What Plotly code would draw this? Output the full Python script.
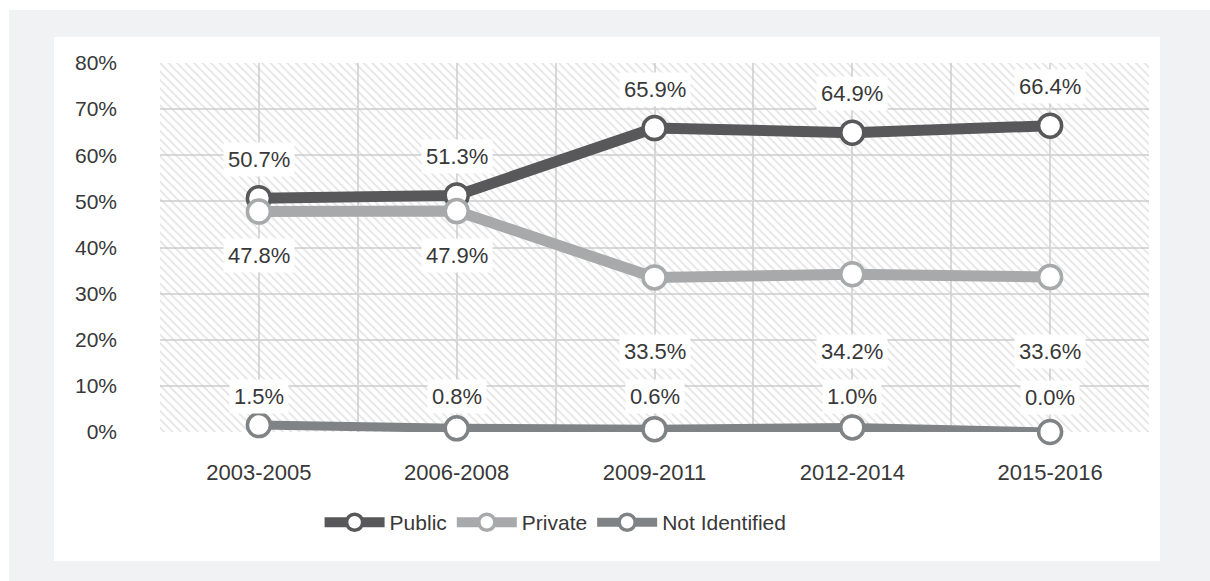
import plotly.graph_objects as go

# Share of projects by funding source, per period
periods = ["2003-2005", "2006-2008", "2009-2011", "2012-2014", "2015-2016"]
public_pct = [50.7, 51.3, 65.9, 64.9, 66.4]
private_pct = [47.8, 47.9, 33.5, 34.2, 33.6]
not_identified_pct = [1.5, 0.8, 0.6, 1.0, 0.0]

y_ticks = [0, 10, 20, 30, 40, 50, 60, 70, 80]

FONT = "Liberation Sans, Arial, sans-serif"
TEXT = "#383838"

series = [
    ("Public", public_pct, "#58585a", 11, [39, 39, 39, 39, 39]),
    ("Private", private_pct, "#a8a9ab", 11, [-44, -44, -74, -77, -74]),
    ("Not Identified", not_identified_pct, "#808385", 9, [29, 32, 33, 31, 35]),
]

xs = list(range(len(periods)))

fig = go.Figure()

# hatched plot background
fig.add_trace(go.Scatter(
    x=[-0.5, 4.5, 4.5, -0.5, -0.5],
    y=[y_ticks[0], y_ticks[0], y_ticks[-1], y_ticks[-1], y_ticks[0]],
    mode="lines", fill="toself",
    line=dict(width=0, color="rgba(0,0,0,0)"),
    fillcolor="rgba(0,0,0,0)",
    fillpattern=dict(shape="\\", fgcolor="#c9c9c9", bgcolor="rgba(0,0,0,0)",
                     size=6, solidity=0.3),
    hoverinfo="skip", showlegend=False,
))

annotations = []
for name, vals, color, lw, shifts in series:
    fig.add_trace(go.Scatter(
        x=xs, y=vals, name=name, mode="lines+markers",
        line=dict(color=color, width=lw),
        marker=dict(symbol="circle", size=23, color="white",
                    line=dict(color=color, width=3.5)),
        cliponaxis=False,
    ))
    for xi, v, s in zip(xs, vals, shifts):
        annotations.append(dict(
            x=xi, y=v, xref="x", yref="y", text=f"{v:.1f}%",
            showarrow=False, yshift=s, bgcolor="white", borderpad=4,
            font=dict(family=FONT, size=22, color=TEXT),
        ))

# page frame: grey surround with a white card
W, H = 989.0, 369.0
L, T = 160.0, 63.0
def px_x(p):
    return (p - L) / W
def px_y(p):
    return (T + H - p) / H

shapes = [
    dict(type="rect", xref="paper", yref="paper", layer="below",
         x0=px_x(9), x1=px_x(1215), y0=px_y(590), y1=px_y(10),
         fillcolor="#f1f2f4", line=dict(width=0)),
    dict(type="rect", xref="paper", yref="paper", layer="below",
         x0=px_x(54), x1=px_x(1160), y0=px_y(561), y1=px_y(37),
         fillcolor="white", line=dict(width=0)),
]

fig.update_layout(
    width=1210, height=581,
    margin=dict(l=160, r=61, t=63, b=149),
    paper_bgcolor="white", plot_bgcolor="rgba(0,0,0,0)",
    font=dict(family=FONT, color=TEXT),
    shapes=shapes, annotations=annotations,
    showlegend=True,
    legend=dict(orientation="h", x=0.40, xanchor="center", y=-0.19, yanchor="top",
                font=dict(family=FONT, size=21, color=TEXT),
                itemwidth=60, bgcolor="rgba(0,0,0,0)", traceorder="normal"),
    xaxis=dict(
        range=[-0.5, 4.5], tickmode="array", tickvals=xs, ticktext=periods,
        showgrid=True, gridcolor="#d9d9d9", gridwidth=1.5,
        minor=dict(tickmode="array", tickvals=[-0.5, 0.5, 1.5, 2.5, 3.5, 4.5],
                   showgrid=True, gridcolor="#d9d9d9", gridwidth=1.5),
        zeroline=False, showline=False, ticks="",
        tickfont=dict(family=FONT, size=22, color=TEXT),
        ticklabelstandoff=25, fixedrange=True,
    ),
    yaxis=dict(
        range=[0, 80], tickmode="array", tickvals=y_ticks,
        ticktext=[f"{t}%" for t in y_ticks],
        showgrid=True, gridcolor="#d9d9d9", gridwidth=1.5,
        zeroline=False, showline=False, ticks="",
        tickfont=dict(family=FONT, size=21, color=TEXT),
        ticklabelstandoff=42, fixedrange=True,
    ),
)

fig.write_html("out.html")
